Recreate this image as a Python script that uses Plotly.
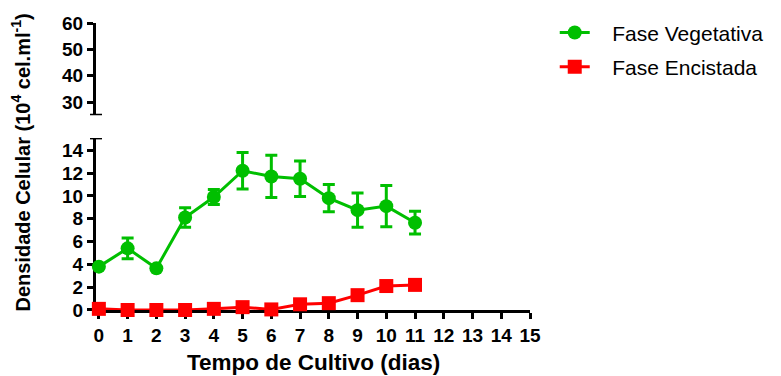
import plotly.graph_objects as go

# Culture time (days) and cell densities (10^4 cells/ml)
days = list(range(12))
vegetativa = [3.8, 5.4, 3.65, 8.1, 9.9, 12.2, 11.7, 11.5, 9.8, 8.75, 9.1, 7.65]
vegetativa_err = [0, 0.9, 0, 0.85, 0.65, 1.6, 1.85, 1.55, 1.2, 1.5, 1.8, 1.0]
encistada = [0.1, 0.0, 0.0, 0.0, 0.1, 0.25, 0.05, 0.5, 0.6, 1.3, 2.1, 2.2]

x_ticks = list(range(16))
y_low_ticks = [0, 2, 4, 6, 8, 10, 12, 14]
y_high_ticks = [30, 40, 50, 60]

GREEN = "#00BF00"
RED = "#FF0000"
FONT = "Liberation Sans, Arial, sans-serif"
PAD = "\u00a0\u00a0\u00a0"  # gap between legend symbol and label

fig = go.Figure()

fig.add_trace(go.Scatter(
    x=days, y=vegetativa, name=PAD + "Fase Vegetativa", mode="lines+markers",
    line=dict(color=GREEN, width=3),
    marker=dict(symbol="circle", size=14, color=GREEN),
    error_y=dict(type="data", array=vegetativa_err, visible=True,
                 color=GREEN, thickness=3, width=6),
    cliponaxis=False, legendgroup="a",
))
fig.add_trace(go.Scatter(
    x=days, y=encistada, name=PAD + "Fase Encistada", mode="lines+markers",
    line=dict(color=RED, width=3),
    marker=dict(symbol="square", size=14, color=RED),
    cliponaxis=False, legendgroup="b",
))

axis_common = dict(
    showline=True, linecolor="black", linewidth=3,
    ticks="outside", ticklen=6, tickwidth=3, tickcolor="black",
    showgrid=False, zeroline=False, layer="below traces", automargin=False,
    tickfont=dict(family=FONT, size=19, color="black", weight="bold"),
)

low_top = 15.08
high_bottom = 25

fig.update_layout(
    width=781, height=376,
    margin=dict(l=96, r=249, t=23, b=66),
    plot_bgcolor="white", paper_bgcolor="white",
    xaxis=dict(
        range=[-0.1, 15], tickmode="array", tickvals=x_ticks,
        anchor="y",
        **axis_common,
    ),
    yaxis=dict(
        domain=[0, 0.5997], range=[0, low_top],
        tickmode="array", tickvals=y_low_ticks, anchor="x",
        **axis_common,
    ),
    yaxis2=dict(
        domain=[0.6787, 1], range=[high_bottom, 60],
        tickmode="array", tickvals=y_high_ticks, anchor="x",
        **axis_common,
    ),
    legend=dict(
        x=1.057, y=1.037, xanchor="left", yanchor="top",
        font=dict(family=FONT, size=21, color="black"),
        tracegroupgap=4, bgcolor="rgba(0,0,0,0)",
    ),
    showlegend=True,
)

# Axis break caps
fig.add_shape(type="line", xref="paper", xsizemode="pixel", xanchor=0,
              x0=-6, x1=6, yref="y", y0=low_top, y1=low_top,
              line=dict(color="black", width=3))
fig.add_shape(type="line", xref="paper", xsizemode="pixel", xanchor=0,
              x0=-6, x1=6, yref="y2", y0=high_bottom, y1=high_bottom,
              line=dict(color="black", width=3))

# X-axis title
fig.add_annotation(
    text="<b>Tempo de Cultivo (dias)</b>",
    xref="paper", yref="paper", x=0.5, y=-0.183,
    xanchor="center", yanchor="middle", showarrow=False,
    font=dict(family=FONT, size=22.5, color="black"),
)

# Shared y-axis title spanning both segments
fig.add_annotation(
    text="<b>Densidade Celular (10<sup>4</sup> cel.ml<sup>-1</sup>)</b>",
    xref="paper", yref="paper", x=-0.1743, y=0.515,
    xanchor="center", yanchor="middle", textangle=-90, showarrow=False,
    font=dict(family=FONT, size=20, color="black"),
)

fig.write_html("out.html")
